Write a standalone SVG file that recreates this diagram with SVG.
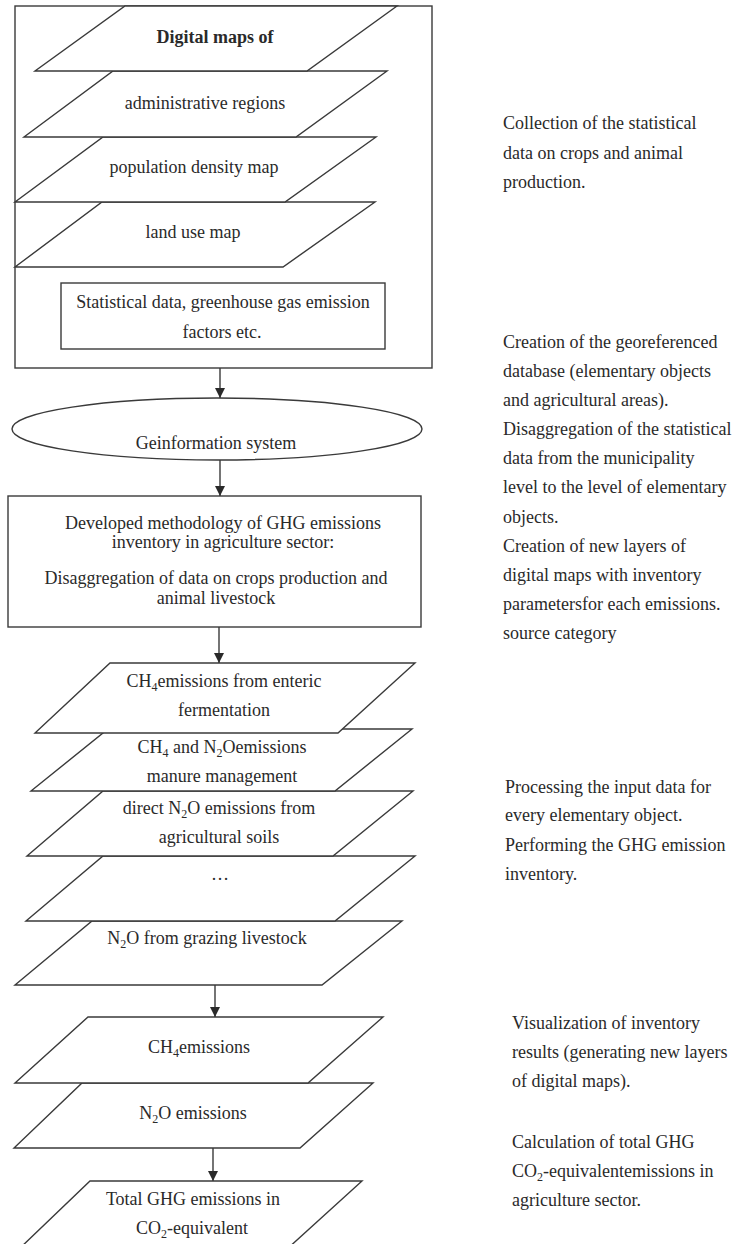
<svg xmlns="http://www.w3.org/2000/svg" width="745" height="1244" viewBox="0 0 745 1244">
<defs>
<style>
.s{fill:#fff;stroke:#3a3a3a;stroke-width:1.4}
.t{font-family:"Liberation Serif","Times New Roman",serif;font-size:18px;fill:#2a2a2a}
.c{text-anchor:middle}
.b{font-weight:bold}
.ln{stroke:#3a3a3a;stroke-width:1.4;fill:none}
.sub{font-size:12px}
</style>
<marker id="ah" markerWidth="10" markerHeight="12" refX="10" refY="5" orient="auto" markerUnits="userSpaceOnUse">
<path d="M0,0 L10,5 L0,10 Z" fill="#2a2a2a"/>
</marker>
</defs>
<rect width="745" height="1244" fill="#fff"/>

<g id="digital-maps-box">
<rect class="s" x="15" y="6" width="417" height="362"/>
</g>
<g id="map-land-use">
<polygon class="s" points="102,202 375,202 283,267 15,267"/>
<text class="t c" x="193" y="238">land use map</text>
</g>
<g id="map-population">
<polygon class="s" points="103,137 376,137 285,202 15,202"/>
<text class="t c" x="194" y="173">population density map</text>
</g>
<g id="map-admin">
<polygon class="s" points="113,71 387,71 296,137 24,137"/>
<text class="t c" x="205" y="109">administrative regions</text>
</g>
<g id="map-title">
<polygon class="s" points="125,6 397,6 307,71 35,71"/>
<text class="t c b" x="215" y="43">Digital maps of</text>
</g>
<g id="stat-data">
<rect class="s" x="61" y="283" width="324" height="66"/>
<text class="t c" x="223" y="308">Statistical data, greenhouse gas emission</text>
<text class="t c" x="222" y="338">factors etc.</text>
</g>

<g id="gis">
<ellipse class="s" cx="217" cy="429" rx="205" ry="31"/>
<text class="t c" x="216" y="449">Geinformation system</text>
</g>

<g id="methodology">
<rect class="s" x="8" y="496" width="413" height="131"/>
<text class="t c" x="223" y="529">Developed methodology of GHG emissions</text>
<text class="t c" x="223" y="548">inventory in agriculture sector:</text>
<text class="t c" x="216" y="584">Disaggregation of data on crops production and</text>
<text class="t c" x="216" y="604">animal livestock</text>
</g>

<g id="layer-grazing">
<polygon class="s" points="92,921 402,921 322,985 15,985"/>
<text class="t c" x="207" y="944">N<tspan class="sub" dy="4">2</tspan><tspan dy="-4">O from grazing livestock</tspan></text>
</g>
<g id="layer-dots">
<polygon class="s" points="103,856 415,856 335,921 26,921"/>
<text class="t c" x="220" y="880">…</text>
</g>
<g id="layer-soils">
<polygon class="s" points="103,791 413,791 333,856 27,856"/>
<text class="t c" x="219" y="814">direct N<tspan class="sub" dy="4">2</tspan><tspan dy="-4">O emissions from</tspan></text>
<text class="t c" x="219" y="843">agricultural soils</text>
</g>
<g id="layer-manure">
<polygon class="s" points="108,729 412,729 335,791 31,791"/>
<text class="t c" x="222" y="753">CH<tspan class="sub" dy="4">4</tspan><tspan dy="-4"> and N</tspan><tspan class="sub" dy="4">2</tspan><tspan dy="-4">Oemissions</tspan></text>
<text class="t c" x="222" y="782">manure management</text>
</g>
<g id="layer-enteric">
<polygon class="s" points="110,663 415,663 338,733 35,733"/>
<text class="t c" x="224" y="687">CH<tspan class="sub" dy="4">4</tspan><tspan dy="-4">emissions from enteric</tspan></text>
<text class="t c" x="224" y="716">fermentation</text>
</g>

<g id="result-n2o">
<polygon class="s" points="82,1083 373,1083 300,1148 14,1148"/>
<text class="t c" x="193" y="1119">N<tspan class="sub" dy="4">2</tspan><tspan dy="-4">O emissions</tspan></text>
</g>
<g id="result-ch4">
<polygon class="s" points="88,1017 383,1017 308,1083 15,1083"/>
<text class="t c" x="199" y="1053">CH<tspan class="sub" dy="4">4</tspan><tspan dy="-4">emissions</tspan></text>
</g>
<g id="total">
<polygon class="s" points="90,1181 362,1181 286,1250 18,1250"/>
<text class="t c" x="193" y="1205">Total GHG emissions in</text>
<text class="t c" x="192" y="1234">CO<tspan class="sub" dy="4">2</tspan><tspan dy="-4">-equivalent</tspan></text>
</g>

<g id="connectors">
<line class="ln" x1="220" y1="368" x2="220" y2="398" marker-end="url(#ah)"/>
<line class="ln" x1="220" y1="460" x2="220" y2="496" marker-end="url(#ah)"/>
<line class="ln" x1="219" y1="627" x2="219" y2="663" marker-end="url(#ah)"/>
<line class="ln" x1="215" y1="985" x2="215" y2="1017" marker-end="url(#ah)"/>
<line class="ln" x1="213" y1="1148" x2="213" y2="1181" marker-end="url(#ah)"/>
</g>

<g id="notes">
<text class="t" x="503" y="129">Collection of the statistical</text>
<text class="t" x="503" y="159">data on crops and animal</text>
<text class="t" x="503" y="188">production.</text>

<text class="t" x="503" y="348">Creation of the georeferenced</text>
<text class="t" x="503" y="377">database (elementary objects</text>
<text class="t" x="503" y="406">and agricultural areas).</text>
<text class="t" x="503" y="435">Disaggregation of the statistical</text>
<text class="t" x="503" y="464">data from the municipality</text>
<text class="t" x="503" y="493">level to the level of elementary</text>
<text class="t" x="503" y="523">objects.</text>
<text class="t" x="503" y="552">Creation of new layers of</text>
<text class="t" x="503" y="581">digital maps with inventory</text>
<text class="t" x="503" y="610">parametersfor each emissions.</text>
<text class="t" x="503" y="639">source category</text>

<text class="t" x="505" y="793">Processing the input data for</text>
<text class="t" x="505" y="821">every elementary object.</text>
<text class="t" x="505" y="851">Performing the GHG emission</text>
<text class="t" x="505" y="880">inventory.</text>

<text class="t" x="512" y="1029">Visualization of inventory</text>
<text class="t" x="512" y="1058">results (generating new layers</text>
<text class="t" x="512" y="1087">of digital maps).</text>
<text class="t" x="512" y="1148">Calculation of total GHG</text>
<text class="t" x="512" y="1177">CO<tspan class="sub" dy="4">2</tspan><tspan dy="-4">-equivalentemissions in</tspan></text>
<text class="t" x="512" y="1206">agriculture sector.</text>
</g>
</svg>
